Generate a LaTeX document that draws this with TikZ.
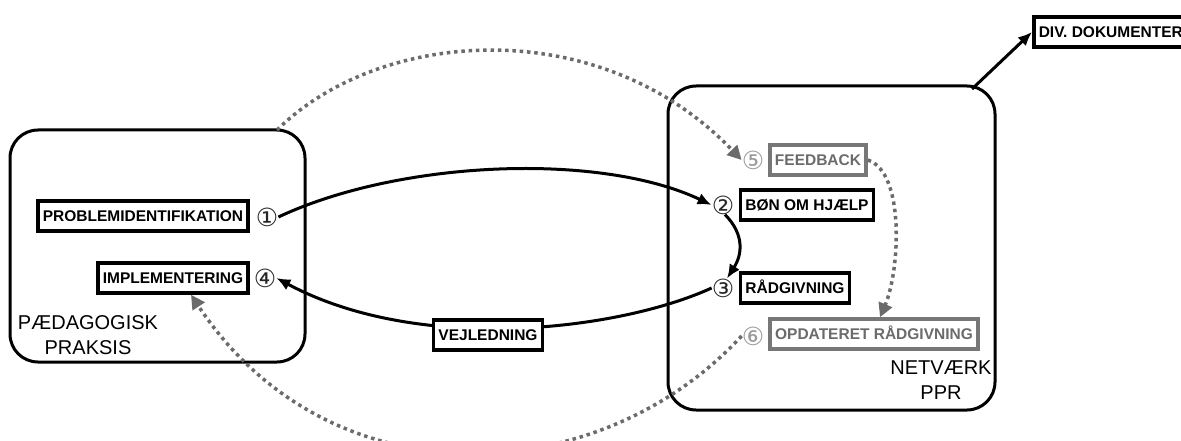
\documentclass[tikz,border=0pt]{standalone}
\usepackage{fontspec}
\setmainfont{Liberation Sans}
\newfontfamily\symfont{DejaVu Sans}
\usetikzlibrary{arrows.meta}
\definecolor{dotc}{HTML}{6B6B6B}
\definecolor{gboxc}{HTML}{777777}
\definecolor{gtextc}{HTML}{6B6B6B}
\definecolor{gnumc}{HTML}{9A9A9A}
\begin{document}
\begin{tikzpicture}[x=1pt,y=-1pt,
  region/.style={draw,line width=3pt,rounded corners=28pt,inner sep=0pt},
  lbl/.style={draw,line width=3.5pt,font=\bfseries\fontsize{15.5}{15.5}\selectfont,
    inner xsep=5pt,inner ysep=0pt,minimum height=30pt,fill=white,text height=11.5pt,text depth=0pt},
  glbl/.style={lbl,draw=gboxc,text=gtextc},
  num/.style={font=\symfont\fontsize{25}{25}\selectfont,inner sep=0pt,text=black!85},
  gnum/.style={num,text=gnumc},
  big/.style={font=\fontsize{20}{25}\selectfont,align=center,inner sep=0pt},
  flow/.style={line width=3pt,-{Latex[length=14pt,width=12pt]}},
  dot/.style={line width=3.5pt,dotc,dash pattern=on 3.5pt off 3.8pt,-{Triangle[length=14pt,width=14pt]}}]
\useasboundingbox (0,0) rectangle (1181,441);
\begin{scope}
\clip (0,0) rectangle (1181,441);
% regions
\node[region,minimum width=295pt,minimum height=232pt] (lbox) at (157.5,246) {};
\node[region,minimum width=327pt,minimum height=324pt] (rbox) at (831.5,248) {};
\coordinate (a0) at (277,130);
\coordinate (d0) at (972,89);
% labels
\node[lbl] (prob) at (143,216) {PROBLEMIDENTIFIKATION};
\node[num] (n1) at (267,217) {①};
\node[lbl] (impl) at (173,278) {IMPLEMENTERING};
\node[num] (n4) at (265,278) {④};
\node[big] (prax) at (88,335) {PÆDAGOGISK\\PRAKSIS};
\node[glbl] (fb) at (818,160) {FEEDBACK};
\node[gnum] (n5) at (753,160) {⑤};
\node[lbl] (bon) at (807,205) {BØN OM HJÆLP};
\node[num] (n2) at (723,205) {②};
\node[lbl] (rad) at (795,288) {RÅDGIVNING};
\node[num] (n3) at (723,288) {③};
\node[glbl] (opd) at (874,334) {OPDATERET RÅDGIVNING};
\node[gnum] (n6) at (753,336) {⑥};
\node[big] (net) at (941,380) {NETVÆRK\\PPR};
\node[lbl,anchor=west] (div) at (1032,32) {DIV. DOKUMENTER};
% solid flows
\draw[flow] (n1.east) .. controls (400,160) and (600,152) .. (n2.west);
\draw[flow] ([xshift=2pt]n2.south) .. controls (745,235) and (742,255) .. ([xshift=4pt]n3.north);
\draw[flow] (n3.west) .. controls (620,330) and (420,355) .. (n4.east);
\node[lbl] (vej) at (488,335) {VEJLEDNING};
\draw[flow] (d0) -- (div.west);
% dotted flows
\draw[dot] (a0) .. controls (380,28) and (600,12) .. (n5.west);
\draw[dot] (fb.east) .. controls (905,172) and (900,270) .. ([xshift=6pt]opd.north);
\draw[dot] (n6.west) .. controls (600,490) and (330,505) .. ([xshift=18pt]impl.south);
\end{scope}
\end{tikzpicture}
\end{document}
